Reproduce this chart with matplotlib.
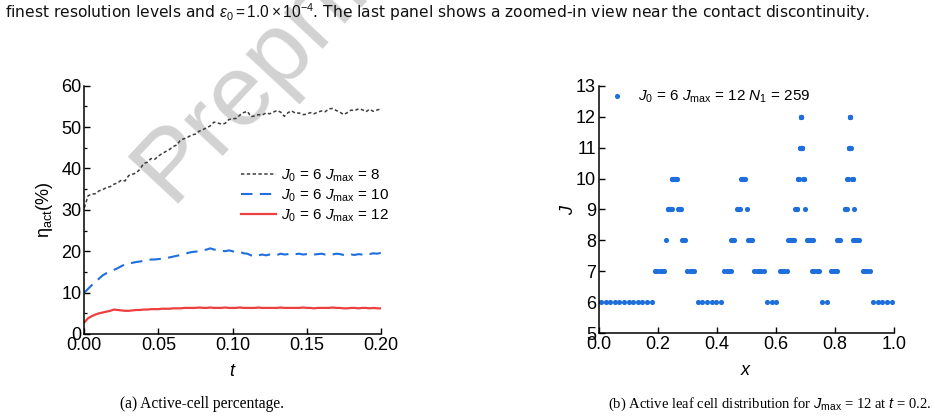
import numpy as np
import matplotlib
matplotlib.use("Agg")
import matplotlib.pyplot as plt
from matplotlib.ticker import MultipleLocator

plt.rcParams['font.family'] = ['Liberation Sans', 'DejaVu Sans']
plt.rcParams['mathtext.fontset'] = 'custom'
plt.rcParams['mathtext.rm'] = 'Liberation Sans'
plt.rcParams['mathtext.it'] = 'Liberation Sans:italic'
plt.rcParams['mathtext.bf'] = 'Liberation Sans:bold'

# ---------------- data: panel (a) ----------------
t = np.round(np.arange(81) * 0.0025, 4)

eta_j8 = [30.5, 33.4, 33.8, 33.9, 34.6, 34.9, 35.4, 35.6, 36.2, 36.5,
          37.2, 37.0, 38.3, 38.6, 38.9, 39.8, 41.2, 41.5, 42.4, 42.2,
          43.0, 43.6, 44.1, 44.6, 45.3, 45.7, 46.9, 47.2, 47.6, 48.1,
          48.3, 49.0, 49.4, 49.8, 50.3, 51.2, 51.0, 50.7, 50.9, 51.8,
          52.0, 52.1, 52.9, 53.5, 53.8, 52.5, 52.7, 53.0, 52.9, 53.4,
          53.2, 53.6, 54.0, 53.6, 52.6, 53.5, 53.9, 53.3, 53.4, 53.0,
          53.1, 53.5, 53.2, 53.6, 53.9, 53.7, 54.4, 54.5, 54.0, 53.6,
          53.0, 53.5, 54.1, 54.0, 54.4, 54.2, 53.7, 54.3, 53.8, 54.1,
          54.4]

eta_j10 = [10.0, 10.9, 11.8, 12.6, 13.4, 14.2, 14.7, 15.1, 15.5, 15.9,
           16.4, 16.8, 17.0, 17.2, 17.4, 17.5, 17.7, 17.8, 18.0, 18.0,
           18.1, 18.2, 18.4, 18.5, 18.7, 18.9, 19.1, 19.3, 19.6, 19.8,
           19.9, 20.0, 20.2, 20.4, 20.7, 20.4, 20.3, 20.1, 20.0, 20.2,
           20.0, 19.7, 19.8, 19.5, 19.4, 19.0, 18.7, 19.0, 19.2, 19.0,
           19.2, 19.3, 19.1, 19.4, 19.2, 19.3, 19.5, 19.3, 19.4, 19.2,
           19.3, 19.4, 19.2, 19.3, 19.4, 19.2, 19.3, 19.2, 19.4, 19.3,
           19.1, 19.0, 19.2, 19.1, 19.3, 19.2, 19.4, 19.3, 19.5, 19.4,
           19.6]

eta_j12 = [2.8, 3.8, 4.3, 4.7, 5.0, 5.2, 5.4, 5.6, 5.9, 5.8,
           5.7, 5.6, 5.6, 5.7, 5.8, 5.8, 5.9, 5.9, 6.0, 6.0,
           6.0, 6.1, 6.1, 6.1, 6.2, 6.2, 6.2, 6.3, 6.3, 6.3,
           6.3, 6.4, 6.3, 6.3, 6.4, 6.3, 6.3, 6.3, 6.4, 6.3,
           6.3, 6.3, 6.4, 6.3, 6.3, 6.3, 6.3, 6.4, 6.3, 6.3,
           6.3, 6.3, 6.3, 6.4, 6.3, 6.3, 6.3, 6.3, 6.3, 6.4,
           6.3, 6.3, 6.2, 6.3, 6.3, 6.3, 6.3, 6.4, 6.3, 6.3,
           6.2, 6.2, 6.3, 6.3, 6.2, 6.3, 6.3, 6.2, 6.3, 6.2,
           6.2]

labels_a = [r"$J_0$ = 6 $J_{\mathrm{max}}$ = 8",
            r"$J_0$ = 6 $J_{\mathrm{max}}$ = 10",
            r"$J_0$ = 6 $J_{\mathrm{max}}$ = 12"]

# ---------------- data: panel (b) ----------------
x_lvl6 = [0.0078, 0.0234, 0.0391, 0.0547, 0.0703, 0.0859, 0.1016, 0.1172, 0.1328,
          0.1484, 0.1641, 0.1797, 0.3359, 0.3516, 0.3672, 0.3828, 0.3984, 0.4141,
          0.5703, 0.5859, 0.6016, 0.7578, 0.7734, 0.9297, 0.9453, 0.9609, 0.9766, 0.9922]
x_lvl7 = [0.1914, 0.1992, 0.2070, 0.2148, 0.2227, 0.3008, 0.3086, 0.3164, 0.3242,
          0.4258, 0.4336, 0.4414, 0.4492, 0.5273, 0.5352, 0.5430, 0.5508, 0.5586,
          0.6133, 0.6211, 0.6289, 0.6367, 0.7227, 0.7305, 0.7383, 0.7461,
          0.7852, 0.7930, 0.8008, 0.8086, 0.8945, 0.9023, 0.9102, 0.9180]
x_lvl8 = [0.2285, 0.2832, 0.2871, 0.2910, 0.4473, 0.4512, 0.4551, 0.4590,
          0.5059, 0.5098, 0.5137, 0.5176, 0.6426, 0.6465, 0.6504, 0.6543, 0.6582, 0.6621,
          0.7051, 0.7090, 0.7129, 0.7168, 0.7207, 0.7246, 0.8066, 0.8105, 0.8145, 0.8184,
          0.8613, 0.8652, 0.8691, 0.8730, 0.8770, 0.8809]
x_lvl9 = [0.2334, 0.2354, 0.2373, 0.2393, 0.2412, 0.2432, 0.2451, 0.2471,
          0.2686, 0.2705, 0.2725, 0.2744, 0.2764, 0.2783,
          0.4697, 0.4717, 0.4736, 0.4756, 0.4775, 0.5010,
          0.6650, 0.6670, 0.6689, 0.6709, 0.6729, 0.7002,
          0.8330, 0.8350, 0.8369, 0.8389, 0.8408, 0.8643]
x_lvl10 = [0.2476, 0.2495, 0.2515, 0.2534, 0.2554, 0.2573, 0.2593, 0.2612, 0.2632, 0.2651,
           0.4819, 0.4839, 0.4858, 0.4878, 0.4897, 0.4917, 0.4937, 0.4956,
           0.6753, 0.6763, 0.6772, 0.6929, 0.6938, 0.6948,
           0.8418, 0.8428, 0.8438, 0.8589, 0.8599, 0.8608]
x_lvl11 = [0.6821, 0.6831, 0.6841, 0.6851, 0.6860, 0.6870, 0.6880, 0.6890,
           0.8467, 0.8477, 0.8486, 0.8496, 0.8506, 0.8516, 0.8525, 0.8535]
x_lvl12 = [0.6846, 0.6851, 0.6855, 0.6860, 0.6865, 0.8501, 0.8506, 0.8511, 0.8516]

levels = [6, 7, 8, 9, 10, 11, 12]
x_by_level = [x_lvl6, x_lvl7, x_lvl8, x_lvl9, x_lvl10, x_lvl11, x_lvl12]
label_b = r"$J_0$ = 6 $J_{\mathrm{max}}$ = 12 $N_1$ = 259"

# ---------------- figure ----------------
fig = plt.figure(figsize=(9.35, 4.2), dpi=100)

BLACK = '#3c3c3c'
BLUE = '#1f6fe0'
RED = '#ec3f3f'
DOT = '#1e6fdc'

def style_axes(ax):
    ax.set_facecolor('none')
    for s in ['top', 'right']:
        ax.spines[s].set_visible(False)
    for s in ['left', 'bottom']:
        ax.spines[s].set_linewidth(1.1)
    ax.tick_params(direction='in', which='major', length=4.5, width=1.0,
                   labelsize=13, pad=2)
    ax.tick_params(direction='in', which='minor', length=2.5, width=0.9)

# watermark (behind the axes content)
fig.text(0.182, 1 - 204 / 420, "Preprint", fontsize=73, color='#d2d2d2',
         rotation=47, rotation_mode='anchor', ha='left', va='baseline',
         zorder=-5, family=['Liberation Sans'])

# panel (a)
ax1 = fig.add_axes([0.0902, 0.2048, 0.3170, 0.5912])
style_axes(ax1)
ax1.plot(t, eta_j8, color=BLACK, lw=1.1, dashes=(2.2, 1.6), label=labels_a[0])
ax1.plot(t, eta_j10, color=BLUE, lw=1.5, dashes=(5.5, 3.5), label=labels_a[1])
ax1.plot(t, eta_j12, color=RED, lw=1.6, label=labels_a[2])
ax1.set_xlim(0, 0.2)
ax1.set_ylim(0, 60)
ax1.xaxis.set_major_locator(MultipleLocator(0.05))
ax1.yaxis.set_major_locator(MultipleLocator(10))
ax1.yaxis.set_minor_locator(MultipleLocator(5))
ax1.xaxis.set_major_formatter(matplotlib.ticker.FormatStrFormatter('%.2f'))
ax1.set_xlabel(r"$t$", fontsize=13)
ax1.set_ylabel(r"η$_{\mathrm{act}}$(%)", fontsize=13)
ax1.xaxis.set_label_coords(0.5, -0.115)
ax1.yaxis.set_label_coords(-0.098, 0.5)
leg1 = ax1.legend(loc='center left', bbox_to_anchor=(0.529, 0.557), frameon=False,
                  fontsize=11, handlelength=2.3, handletextpad=0.3,
                  borderpad=0, borderaxespad=0, labelspacing=0.25)

# panel (b)
ax2 = fig.add_axes([0.6403, 0.2064, 0.3158, 0.5896])
style_axes(ax2)
xs = np.concatenate([np.asarray(v) for v in x_by_level])
ys = np.concatenate([np.full(len(v), lv) for lv, v in zip(levels, x_by_level)])
ax2.plot(xs, ys, linestyle='none', marker='o', markersize=3.7, color=DOT,
         markeredgewidth=0, label=label_b)
ax2.set_xlim(0, 1.0)
ax2.set_ylim(5, 13)
ax2.xaxis.set_major_locator(MultipleLocator(0.2))
ax2.yaxis.set_major_locator(MultipleLocator(1))
ax2.xaxis.set_major_formatter(matplotlib.ticker.FormatStrFormatter('%.1f'))
ax2.set_xlabel(r"$x$", fontsize=13)
ax2.set_ylabel(r"$J$", fontsize=13)
ax2.xaxis.set_label_coords(0.5, -0.115)
ax2.yaxis.set_label_coords(-0.075, 0.5)
leg2 = ax2.legend(loc='center left', bbox_to_anchor=(0.036, 0.954), frameon=False,
                  fontsize=11, handlelength=1.0, handletextpad=0.85,
                  borderpad=0, borderaxespad=0, markerscale=1.0)

# texts
fig.text(0.005, 0.972,
         r"finest resolution levels and $\epsilon_0 = 1.0\times10^{-4}$. The last panel shows a zoomed-in view near the contact discontinuity.",
         fontsize=11.2, family=['DejaVu Sans'], ha='left', va='center', color='#111111')
fig.text(0.2165, 0.038, "(a) Active-cell percentage.", fontsize=11.2,
         family=['Liberation Serif'], ha='center', va='center')
fig.text(0.8235, 0.038, r"(b) Active leaf cell distribution for $J_{\mathrm{max}}$ = 12 at $t$ = 0.2.",
         fontsize=10.5, family=['Liberation Serif'], ha='center', va='center')

fig.savefig("out.png", dpi=100)
